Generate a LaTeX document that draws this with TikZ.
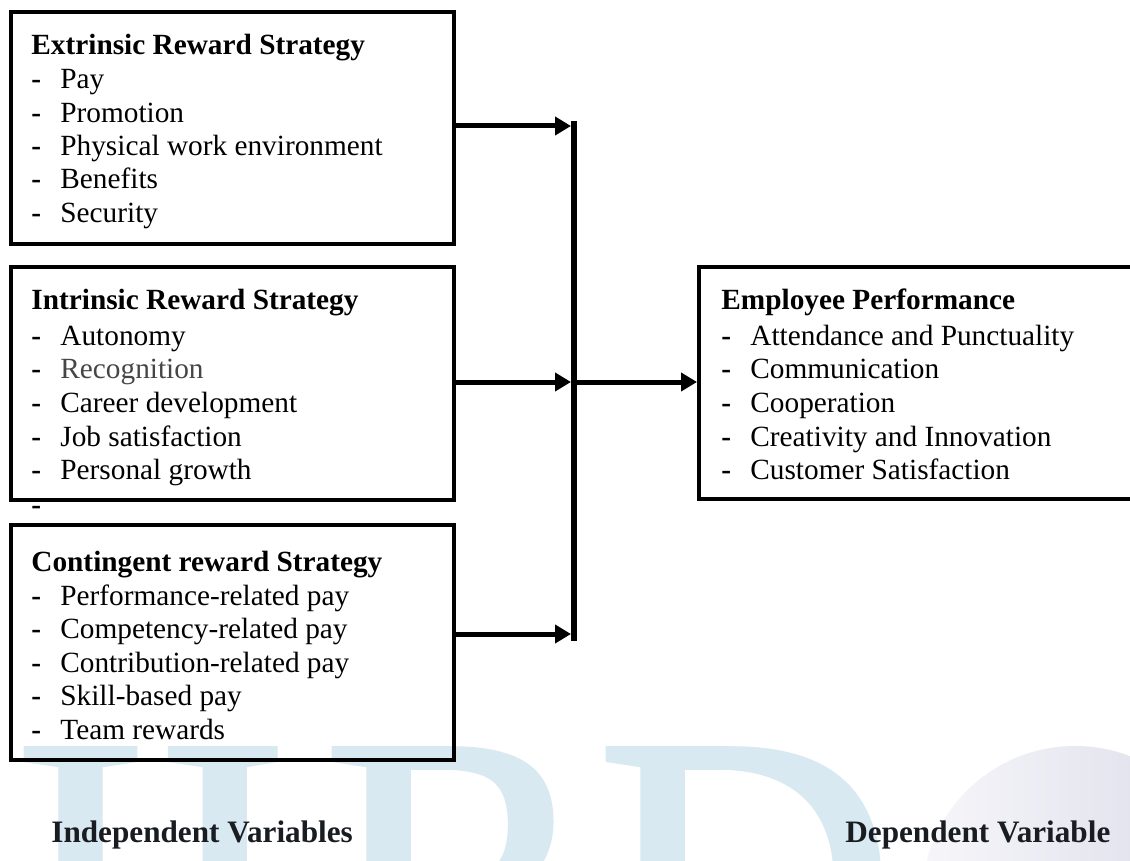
\documentclass[tikz,border=0pt]{standalone}
\usepackage{fontspec}
\setmainfont{Liberation Serif}
\newfontfamily\markfont[FakeBold=1.3]{Liberation Serif}
\usetikzlibrary{arrows.meta}
\definecolor{wmblue}{RGB}{216,233,242}
\definecolor{globeL}{RGB}{246,246,250}
\definecolor{globeR}{RGB}{220,220,233}
\definecolor{softgray}{RGB}{70,70,70}
\definecolor{labelink}{RGB}{25,28,32}

\begin{document}
\begin{tikzpicture}[x=0.5pt,y=-0.5pt,
  box/.style={draw,line width=1.8pt,rectangle,inner sep=0pt,anchor=north west},
  txt/.style={anchor=base west,inner sep=0pt,font=\fontsize{14.65}{17}\selectfont},
  head/.style={txt,font=\fontsize{14.65}{17}\selectfont\bfseries},
  bullet/.style={txt,font=\fontsize{14.65}{17}\selectfont\bfseries},
  link/.style={line width=2.5pt,-{Triangle[length=8pt,width=9pt]}},
  bar/.style={line width=3pt},
  letter/.style={anchor=base west,inner sep=0pt,text=wmblue,font=\markfont\fontsize{207}{207}\selectfont},
  caption/.style={anchor=base west,inner sep=0pt,text=labelink,font=\fontsize{15.6}{18}\selectfont\bfseries}]

% page frame
\useasboundingbox (0,0) rectangle (1130,861);
\fill[white] (0,0) rectangle (1130,861);
\clip (0,0) rectangle (1130,861);

% faint background lettering and globe
\node[letter] (markI) at (11,1020) {I};
\node[letter] (markJ) at (122,1020) {J};
\node[letter] (markR) at (322,1020) {R};
\node[letter] (markD) at (596,1020) {D};
\shade[left color=globeL,right color=globeR] (1075,899) circle (153);

% variable boxes
\node[box,minimum width=221.5pt,minimum height=116pt] (ext) at (9,10) {};
\node[box,minimum width=221.5pt,minimum height=116.5pt] (int) at (9,265) {};
\node[box,minimum width=221.5pt,minimum height=117.5pt] (cont) at (9,523) {};
\node[box,minimum width=220pt,minimum height=116pt] (emp) at (697,265) {};

% extrinsic
\node[head] (extT) at (31,55) {Extrinsic Reward Strategy};
\foreach \t [count=\i from 0] in {Pay,Promotion,Physical work environment,Benefits,Security}{
  \node[bullet] (extD\i) at (31,{89+33.3*\i}) {-};
  \node[txt] (extI\i) at (60,{89+33.3*\i}) {\t};
}

% intrinsic
\node[head] (intT) at (31,310) {Intrinsic Reward Strategy};
\foreach \t [count=\i from 0] in {Autonomy,\textcolor{softgray}{Recognition},Career development,Job satisfaction,Personal growth}{
  \node[bullet] (intD\i) at (31,{345+33.7*\i}) {-};
  \node[txt] (intI\i) at (60,{345+33.7*\i}) {\t};
}
\node[bullet] (lone) at (31,514) {-};

% contingent
\node[head] (contT) at (31,571) {Contingent reward Strategy};
\foreach \t [count=\i from 0] in {Performance-related pay,Competency-related pay,Contribution-related pay,Skill-based pay,Team rewards}{
  \node[bullet] (contD\i) at (31,{605+33.5*\i}) {-};
  \node[txt] (contI\i) at (60,{605+33.5*\i}) {\t};
}

% employee performance
\node[head] (empT) at (721,310) {Employee Performance};
\foreach \t [count=\i from 0] in {Attendance and Punctuality,Communication,Cooperation,Creativity and Innovation,Customer Satisfaction}{
  \node[bullet] (empD\i) at (721,{345+33.7*\i}) {-};
  \node[txt] (empI\i) at (750,{345+33.7*\i}) {\t};
}

% collector bar and arrows
\coordinate (barTop) at (574,121);
\coordinate (barBot) at (574,641);
\coordinate (t1) at (571,126);
\coordinate (t2) at (571,382);
\coordinate (t3) at (571,634);
\coordinate (out) at (577,382);
\draw[bar] (barTop) -- (barBot);
\draw[link] (ext.east |- t1) -- (t1);
\draw[link] (int.east |- t2) -- (t2);
\draw[link] (cont.east |- t3) -- (t3);
\draw[link] (out) -- (emp.west |- out);

% captions
\node[caption] (indep) at (51,842) {Independent Variables};
\node[caption] (dep) at (845,842) {Dependent Variable};
\end{tikzpicture}
\end{document}
